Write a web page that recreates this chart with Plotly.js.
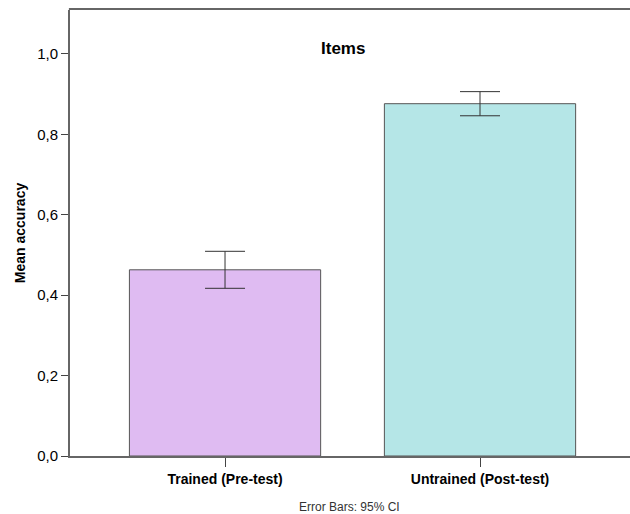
<!DOCTYPE html>
<html><head><meta charset="utf-8">
<script src="https://cdn.plot.ly/plotly-3.0.1.min.js"></script>
<style>html,body{margin:0;padding:0;background:#fff;overflow:hidden}#chart{width:630px;height:514px}</style>
</head><body><div id="chart"></div>
<script>
const categories = ["Trained (Pre-test)", "Untrained (Post-test)"];
const meanAccuracy = [0.463, 0.876];
const ciHalfWidth = [0.046, 0.030];
const barColors = ["#DFBBF2", "#B5E6E7"];
const yTicks = [0, 0.2, 0.4, 0.6, 0.8, 1.0];

const trace = {
  type: "bar",
  x: categories,
  y: meanAccuracy,
  width: 0.75,
  marker: {color: barColors, line: {color: "#555555", width: 1}},
  error_y: {type: "data", array: ciHalfWidth, visible: true, color: "#333333", thickness: 1, width: 20},
  hoverinfo: "none"
};

const plotH = 514 - 10 - 58;
const layout = {
  width: 630, height: 514,
  margin: {l: 70, r: 10, t: 10, b: 58, pad: 0},
  separators: ",.",
  paper_bgcolor: "#ffffff", plot_bgcolor: "#ffffff",
  font: {family: "Liberation Sans, Arial, sans-serif", color: "#000"},
  showlegend: false,
  xaxis: {
    range: [-0.608, 1.549],
    showgrid: false, zeroline: false,
    showline: true, linecolor: "#666666", linewidth: 2,
    ticks: "outside", ticklen: 9, tickwidth: 1, tickcolor: "#444",
    tickfont: {size: 14, weight: "bold"},
    fixedrange: true
  },
  yaxis: {
    range: [0, 1.109],
    tickvals: yTicks, tickformat: ".1f",
    showgrid: false, zeroline: false,
    showline: true, linecolor: "#666666", linewidth: 2,
    ticks: "outside", ticklen: 7, tickwidth: 1, tickcolor: "#444",
    tickfont: {size: 15},
    title: {text: "Mean accuracy", font: {size: 14, weight: "bold"}, standoff: 8},
    automargin: false,
    fixedrange: true
  },
  shapes: [
    {type: "line", xref: "paper", yref: "paper", x0: -0.002, x1: 1.03, y0: 1 + 1 / plotH, y1: 1 + 1 / plotH, line: {color: "#666666", width: 2}},
    {type: "line", xref: "paper", yref: "paper", x0: 0.98, x1: 1.03, y0: -1 / plotH, y1: -1 / plotH, line: {color: "#666666", width: 2}}
  ],
  annotations: [
    {text: "<b>Items</b>", xref: "paper", yref: "paper", x: (343 - 70) / 550, y: 0.913, xanchor: "center", yanchor: "middle", showarrow: false, font: {size: 17}},
    {text: "Error Bars: 95% CI", xref: "paper", yref: "paper", x: (350 - 70) / 550, y: -0.115, xanchor: "center", yanchor: "middle", showarrow: false, font: {size: 12, color: "#333"}}
  ]
};

Plotly.newPlot("chart", [trace], layout, {displayModeBar: false, staticPlot: true});
</script></body></html>
